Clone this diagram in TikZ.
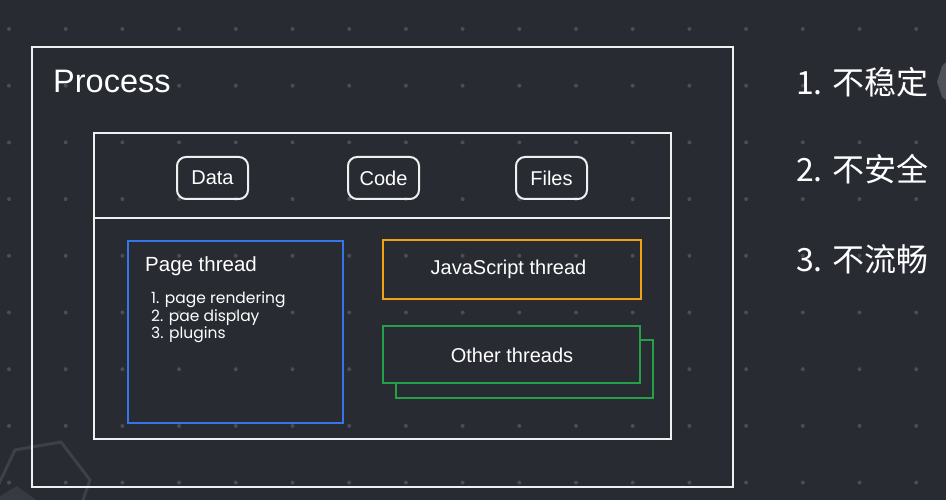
\documentclass[tikz,border=0pt]{standalone}
\usepackage{fontspec}
\setmainfont{Liberation Sans}
\newfontfamily\cjkfont{Noto Sans CJK SC}
\newfontfamily\listfont{Poppins}
\definecolor{bg}{RGB}{41,43,51}
\definecolor{dotc}{RGB}{75,77,86}
\definecolor{hexc}{RGB}{62,64,72}
\definecolor{hexfill}{RGB}{56,58,66}
\definecolor{edgec}{RGB}{80,82,90}
\definecolor{bluec}{RGB}{52,118,232}
\definecolor{orangec}{RGB}{240,164,20}
\definecolor{greenc}{RGB}{38,160,70}
\definecolor{linec}{RGB}{240,240,240}
\tikzset{
  frame/.style={draw=linec, line width=2pt},
  pill/.style={draw=linec, line width=2pt, rounded corners=9pt},
  bluebox/.style={draw=bluec, line width=2.6pt},
  orangebox/.style={draw=orangec, line width=2.2pt},
  greenbox/.style={draw=greenc, fill=bg, line width=2.2pt},
  lbl/.style={text=white, inner sep=0pt, font=\fontsize{20}{24}\selectfont},
  listlbl/.style={text=white, inner sep=0pt, anchor=base west, font=\listfont\fontsize{15.5}{17.5}\selectfont},
  cjklbl/.style={text=white, inner sep=0pt, anchor=base west, font=\cjkfont\fontsize{32}{36}\selectfont},
}
\begin{document}
\begin{tikzpicture}[x=1pt,y=-1pt]
\fill[bg] (0,0) rectangle (946,500);
\useasboundingbox (0,0) rectangle (946,500);
% dot grid
\foreach \i in {0,...,16}{
  \foreach \j in {0,...,8}{
    \fill[dotc] ({9+56.7*\i},{29+56.7*\j}) circle (2);
  }
}
% decorative hexagons
\fill[hexfill] (0,496) -- (17,486) -- (36,500) -- (0,500) -- cycle;
\draw[hexc, line width=3pt] (-5,492) -- (15,450) -- (61,442) -- (90,480) -- (76,520);
\fill[edgec] (946,62) -- (942,66) -- (937,82) -- (942,97) -- (946,100) -- cycle;
% outer process frame
\draw[frame] (32,47) rectangle (733,487);
\node[lbl, anchor=base west, font=\fontsize{32.5}{38}\selectfont] (proc) at (53,93) {Process};
% inner frame
\draw[frame] (94,133) rectangle (671,439);
\coordinate (sepL) at (94,218);
\coordinate (sepR) at (671,218);
\draw[draw=linec, line width=1.4pt] (sepL) -- (sepR);
% resources
\node[pill, minimum width=71pt, minimum height=42pt, inner sep=0pt] (data) at (212.5,178) {};
\node[lbl] at (data.center) {Data};
\node[pill, minimum width=71pt, minimum height=42pt, inner sep=0pt] (code) at (383.5,178) {};
\node[lbl] at (code.center) {Code};
\node[pill, minimum width=71pt, minimum height=42pt, inner sep=0pt] (files) at (551.5,178) {};
\node[lbl] at (files.center) {Files};
% page thread
\draw[bluebox] (128,241) rectangle (343,423);
\node[lbl, anchor=base west, font=\fontsize{20.5}{24}\selectfont] (pt) at (145,272) {Page thread};
\node[listlbl] (l1) at (151,303) {1. page rendering};
\node[listlbl] (l2) at (151,321) {2. pae display};
\node[listlbl] (l3) at (151,338) {3. plugins};
% javascript thread
\draw[orangebox] (383,240) rectangle (641,299);
\node[lbl, anchor=base] (js) at (508.5,274) {JavaScript thread};
% other threads
\draw[greenbox] (396,340) rectangle (653,398);
\draw[greenbox] (383,326) rectangle (640,383);
\node[lbl, anchor=base] (ot) at (512,362) {Other threads};
% right list
\node[cjklbl] (r1) at (796,95) {1. 不稳定};
\node[cjklbl] (r2) at (796,182) {2. 不安全};
\node[cjklbl] (r3) at (796,271) {3. 不流畅};
\end{tikzpicture}
\end{document}
